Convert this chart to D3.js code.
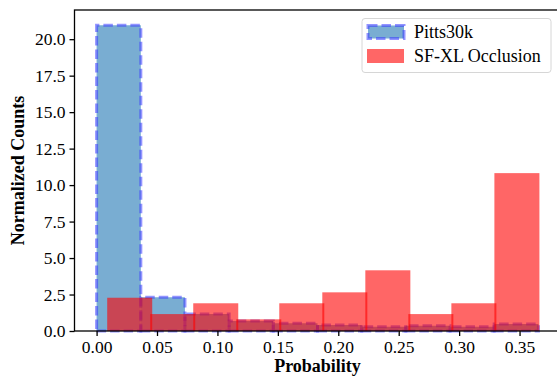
<!DOCTYPE html>
<html>
<head>
<meta charset="utf-8">
<script src="https://cdn.jsdelivr.net/npm/d3@7"></script>
<style>
  body { margin: 0; background: #fff; }
  svg { display: block; }
  text { font-family: "Liberation Serif", "DejaVu Serif", serif; }
</style>
</head>
<body>
<div id="chart"></div>
<script>
// bin edges and normalized densities
const pittsEdges = [0, 0.0366, 0.0731, 0.1097, 0.1462, 0.1828, 0.2194, 0.2559, 0.2925, 0.3290, 0.3656];
const pittsDensity = [20.96, 2.31, 1.16, 0.68, 0.53, 0.41, 0.29, 0.36, 0.29, 0.48];
const sfxlEdges = [0.0096, 0.0452, 0.0808, 0.1164, 0.1520, 0.1876, 0.2232, 0.2588, 0.2944, 0.3300, 0.3656];
const sfxlDensity = [2.28, 1.16, 1.90, 0.80, 1.90, 2.65, 4.16, 1.16, 1.90, 10.82];
const xTicks = [0, 0.05, 0.10, 0.15, 0.20, 0.25, 0.30, 0.35];
const yTicks = [0, 2.5, 5, 7.5, 10, 12.5, 15, 17.5, 20];
const seriesNames = ["Pitts30k", "SF-XL Occlusion"];

const W = 557, H = 379;
const margin = { top: 10, left: 74.5, bottom: 48 };
const plotRight = 560.5;
const height = H - margin.top - margin.bottom;

const svg = d3.select("#chart").append("svg")
    .attr("width", W)
    .attr("height", H);

const x = d3.scaleLinear().domain([-0.01828, 0.38388]).range([margin.left, plotRight]);
const y = d3.scaleLinear().domain([0, 22.0]).range([margin.top + height, margin.top]);

const toBins = (edges, vals) => vals.map((v, i) => ({ x0: edges[i], x1: edges[i + 1], v: v }));

// Pitts30k: blue fill, dashed blue outline (matplotlib rectangle path order)
svg.append("g").selectAll("path")
    .data(toBins(pittsEdges, pittsDensity))
    .enter().append("path")
    .attr("d", d => `M${x(d.x0)},${y(0)}H${x(d.x1)}V${y(d.v)}H${x(d.x0)}Z`)
    .attr("fill", "#1f77b4")
    .attr("fill-opacity", 0.6)
    .attr("stroke", "#3b3bff")
    .attr("stroke-opacity", 0.55)
    .attr("stroke-width", 3)
    .attr("stroke-dasharray", "9.5,4");

// SF-XL Occlusion: translucent red, bars overlap by a hair
svg.append("g").selectAll("rect")
    .data(toBins(sfxlEdges, sfxlDensity))
    .enter().append("rect")
    .attr("x", d => x(d.x0) - 1)
    .attr("y", d => y(d.v))
    .attr("width", d => x(d.x1) - x(d.x0) + 2)
    .attr("height", d => y(0) - y(d.v))
    .attr("fill", "red")
    .attr("fill-opacity", 0.6);

// axes
const xAxis = svg.append("g")
    .attr("transform", `translate(0,${y(0)})`)
    .call(d3.axisBottom(x).tickValues(xTicks).tickFormat(d3.format(".2f")).tickSize(5).tickPadding(5));
const yAxis = svg.append("g")
    .attr("transform", `translate(${margin.left},0)`)
    .call(d3.axisLeft(y).tickValues(yTicks).tickFormat(d3.format(".1f")).tickSize(5).tickPadding(4));

[xAxis, yAxis].forEach(a => {
    a.select(".domain").remove();
    a.selectAll(".tick line").attr("stroke", "#000").attr("stroke-width", 1.3);
    a.selectAll(".tick text").attr("font-size", "17.5px").attr("fill", "#000")
        .style("font-family", "'Liberation Serif', serif");
});

// spines
svg.append("rect")
    .attr("x", margin.left)
    .attr("y", margin.top)
    .attr("width", plotRight - margin.left)
    .attr("height", height)
    .attr("fill", "none")
    .attr("stroke", "#000")
    .attr("stroke-width", 1.3);

// axis labels
svg.append("text")
    .attr("x", (margin.left + plotRight) / 2)
    .attr("y", 372)
    .attr("text-anchor", "middle")
    .attr("font-size", "18px")
    .attr("font-weight", "bold")
    .text("Probability");

svg.append("text")
    .attr("transform", `translate(24,${margin.top + height / 2}) rotate(-90)`)
    .attr("text-anchor", "middle")
    .attr("font-size", "18px")
    .attr("font-weight", "bold")
    .text("Normalized Counts");

// legend
const lg = svg.append("g");
lg.append("rect")
    .attr("x", 362).attr("y", 18.5)
    .attr("width", 189).attr("height", 54)
    .attr("rx", 3)
    .attr("fill", "#fff").attr("fill-opacity", 0.8)
    .attr("stroke", "#d6d6d6").attr("stroke-width", 1);

lg.append("rect")
    .attr("x", 368).attr("y", 25.5)
    .attr("width", 36).attr("height", 13)
    .attr("fill", "#1f77b4").attr("fill-opacity", 0.6)
    .attr("stroke", "#3b3bff").attr("stroke-opacity", 0.55)
    .attr("stroke-width", 3).attr("stroke-dasharray", "9.5,4");
lg.append("rect")
    .attr("x", 367).attr("y", 49)
    .attr("width", 37).attr("height", 14)
    .attr("fill", "red").attr("fill-opacity", 0.6);

lg.selectAll("text.lbl")
    .data(seriesNames)
    .enter().append("text")
    .attr("class", "lbl")
    .attr("x", 414)
    .attr("y", (d, i) => 38 + i * 24)
    .attr("font-size", "18px")
    .text(d => d);
</script>
</body>
</html>
